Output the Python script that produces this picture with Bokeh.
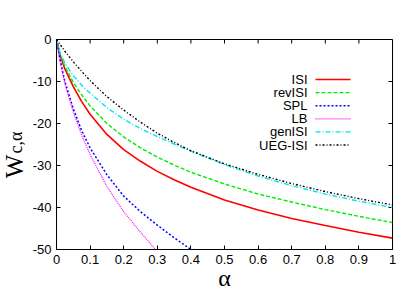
import math
from bokeh.plotting import figure
from bokeh.models import LinearAxis, FixedTicker, Range1d, Label
from bokeh.core.properties import value
from bokeh.embed import file_html
from bokeh.resources import INLINE

# ---------------- data ----------------
alpha = [0, 0.01, 0.025, 0.05, 0.075, 0.1, 0.15, 0.2, 0.25, 0.3, 0.35, 0.4,
         0.5, 0.6, 0.7, 0.8, 0.9, 1.0]
isi = [0, -3.6, -7.0, -11.2, -14.8, -17.8, -22.6, -26.2, -29.0, -31.4, -33.4, -35.2,
       -38.2, -40.6, -42.6, -44.3, -45.9, -47.3]
rev_isi = [0, -3.3, -6.4, -10.2, -13.2, -15.8, -20.0, -23.2, -25.8, -28.0, -29.9, -31.6,
           -34.4, -36.8, -38.7, -40.5, -42.1, -43.6]
gen_isi = [0, -2.9, -5.6, -8.6, -10.9, -12.8, -16.2, -19.0, -21.2, -23.1, -24.9, -26.6,
           -29.8, -32.5, -34.8, -36.8, -38.5, -40.0]
ueg_isi = [0, -1.1, -2.8, -5.3, -7.6, -9.8, -13.6, -16.8, -19.7, -22.3, -24.5, -26.5,
           -29.6, -32.1, -34.3, -36.2, -37.9, -39.4]
alpha_spl = [0, 0.01, 0.025, 0.05, 0.075, 0.1, 0.15, 0.2, 0.25, 0.3, 0.35, 0.4]
spl = [0, -4.6, -10.0, -16.5, -21.7, -25.8, -32.2, -37.3, -41.0, -44.2, -47.2, -50.0]
alpha_lb = [0, 0.01, 0.025, 0.05, 0.075, 0.1, 0.15, 0.2, 0.25, 0.3]
lb = [0, -4.9, -10.6, -17.3, -22.8, -27.4, -35.0, -41.0, -45.9, -50.5]

series_names = ["ISI", "revISI", "SPL", "LB", "genISI", "UEG-ISI"]
x_ticks = [0, 0.1, 0.2, 0.3, 0.4, 0.5, 0.6, 0.7, 0.8, 0.9, 1.0]
x_tick_labels = ["0", "0.1", "0.2", "0.3", "0.4", "0.5", "0.6", "0.7", "0.8", "0.9", "1"]
y_ticks = [0, -10, -20, -30, -40, -50]
y_tick_labels = ["0", "-10", "-20", "-30", "-40", "-50"]

# ---------------- styles ----------------
styles = [
    dict(color="#ff0000", width=1.6, dash="solid"),
    dict(color="#00ee00", width=1.4, dash="4 2"),
    dict(color="#0000ff", width=1.5, dash="2 2"),
    dict(color="#ff00ff", width=1.2, dash="1 1"),
    dict(color="#00e5ee", width=1.4, dash="5 2 1 2"),
    dict(color="#000000", width=1.4, dash="2 2 1 2"),
]
xs_all = [alpha, alpha, alpha_spl, alpha_lb, alpha, alpha]
ys_all = [isi, rev_isi, spl, lb, gen_isi, ueg_isi]

FONT = "Liberation Sans"
SERIF = "Liberation Serif"

# frame in page pixels: x 56..392, y 39..249 (page is 415 x 291)
p = figure(width=415, height=291, x_range=Range1d(0, 1), y_range=Range1d(-50, 0),
           output_backend="svg", toolbar_location=None,
           min_border_left=56, min_border_right=23, min_border_top=39, min_border_bottom=42,
           x_axis_location=None, y_axis_location=None)
p.grid.visible = False
p.outline_line_color = "black"
p.outline_line_width = 1
p.background_fill_color = "white"
p.border_fill_color = "white"

px_per_x = 336.0
px_per_y = 210.0 / 50.0
TICK = 4


def make_axis(ticks, labels):
    ax = LinearAxis(ticker=FixedTicker(ticks=ticks))
    ax.major_label_overrides = {t: l for t, l in zip(ticks, labels)}
    ax.major_tick_in = TICK
    ax.major_tick_out = 0
    ax.minor_tick_line_color = None
    ax.axis_line_color = "black"
    ax.major_tick_line_color = "black"
    ax.major_label_text_font = FONT
    ax.major_label_text_color = "black"
    ax.major_label_text_font_size = "13px"
    ax.major_label_standoff = 5
    return ax


p.add_layout(make_axis(x_ticks, x_tick_labels), "below")
p.add_layout(make_axis(y_ticks, y_tick_labels), "left")

# mirrored inward ticks on the top and right edges
top = max(y_ticks)
right = max(x_ticks)
p.segment(x0=x_ticks, y0=[top] * len(x_ticks), x1=x_ticks,
          y1=[top - TICK / px_per_y] * len(x_ticks), line_color="black", line_width=1)
p.segment(x0=[right] * len(y_ticks), y0=y_ticks, x1=[right - TICK / px_per_x] * len(y_ticks),
          y1=y_ticks, line_color="black", line_width=1)

for xs, ys, st in zip(xs_all, ys_all, styles):
    p.line(xs, ys, line_color=st["color"], line_width=st["width"], line_dash=st["dash"])

# ---------------- legend (text right-aligned, sample to the right) ----------------
text_right = (307 - 56) / px_per_x
line_x0 = (315 - 56) / px_per_x
line_x1 = (350 - 56) / px_per_x
row0 = -(79 - 39) / px_per_y
row_step = 13.1 / px_per_y
for i, (name, st) in enumerate(zip(series_names, styles)):
    yy = row0 - i * row_step
    p.text(x=[text_right], y=[yy], text=[name], text_align="right", text_baseline="middle",
           text_font=value(FONT), text_font_size="13px", text_color="black")
    p.line([line_x0, line_x1], [yy, yy], line_color=st["color"], line_width=st["width"],
           line_dash=st["dash"])

# ---------------- axis titles ----------------
# placed in side panels with spare room so that they are not clipped by the frame
p.add_layout(Label(x=-(56 - 13.5) / px_per_x, y=-(166 - 39) / px_per_y, text="W",
                   angle=math.pi / 2, text_font=SERIF, text_font_size="25px",
                   text_align="center", text_baseline="alphabetic", text_color="black"), "above")
p.add_layout(Label(x=-(56 - 15) / px_per_x, y=-(153 - 39) / px_per_y, text="c,α",
                   angle=math.pi / 2, text_font=SERIF, text_font_size="18px",
                   text_align="left", text_baseline="alphabetic", text_color="black"), "below")
p.add_layout(Label(x=0.5, y=-50 - (290.5 - 249) / px_per_y, text="α",
                   text_font=SERIF, text_font_size="24px",
                   text_align="center", text_baseline="bottom", text_color="black"), "right")

open("out.html", "w").write(file_html(p, INLINE))
